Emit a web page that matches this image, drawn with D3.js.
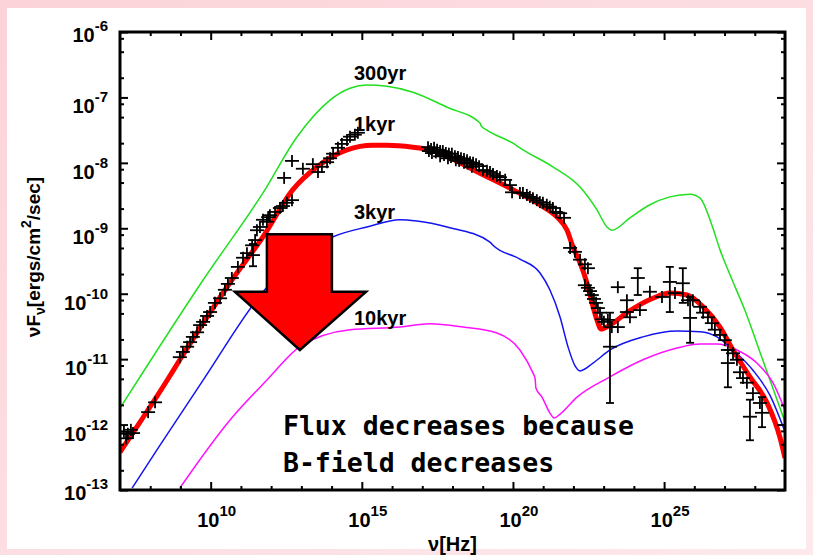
<!DOCTYPE html>
<html>
<head>
<meta charset="utf-8">
<script src="https://cdn.jsdelivr.net/npm/d3@7"></script>
<style>
html, body { margin: 0; padding: 0; background: #fff; }
svg { display: block; }
text { font-family: "Liberation Sans", Arial, sans-serif; font-weight: bold; fill: #000; }
.note { font-family: "DejaVu Sans Mono", monospace; font-weight: bold; }
</style>
</head>
<body>
<svg id="chart" width="813" height="555"></svg>
<script>
// all values are log10: [log10(nu/Hz), log10(nuFnu)]
const nuTickExp = [10, 15, 20, 25];
const fluxTickExp = [-6, -7, -8, -9, -10, -11, -12, -13];
const fluxMinor = [2, 5, 8];

const curve300yr = [[7.00,-11.75],[9.75,-9.79],[11.73,-8.46],[12.86,-7.60],[13.95,-7.04],[14.61,-6.86],
  [15.17,-6.81],[15.83,-6.83],[16.69,-6.92],[17.82,-7.15],[18.91,-7.39],[18.94,-7.43],[19.14,-7.50],
  [20.00,-7.70],[20.33,-7.80],[21.32,-8.06],[22.22,-8.37],[22.78,-8.72],[23.11,-8.98],[23.27,-9.03],
  [23.87,-8.84],[24.53,-8.64],[25.19,-8.52],[25.86,-8.48],[26.19,-8.54],[26.58,-8.95],[26.85,-9.33],
  [27.18,-9.71],[27.67,-10.25],[28.17,-10.89],[29.00,-11.96]];

const curve1kyr = [[7.00,-12.42],[8.55,-11.33],[8.98,-11.01],[10.70,-9.79],[11.73,-9.13],[12.72,-8.41],
  [13.52,-8.06],[14.51,-7.80],[15.37,-7.73],[15.83,-7.73],[16.69,-7.76],[17.25,-7.80],[18.91,-8.16],
  [20.00,-8.41],[20.89,-8.64],[21.46,-8.83],[21.79,-9.03],[21.99,-9.29],[22.22,-9.53],[22.45,-9.84],
  [22.65,-10.20],[22.78,-10.40],[22.91,-10.54],[23.21,-10.48],[23.77,-10.29],[24.63,-10.07],
  [25.19,-9.99],[25.76,-10.02],[26.29,-10.20],[26.85,-10.51],[27.28,-10.86],[27.84,-11.27],
  [28.41,-11.67],[28.83,-12.19],[29.00,-12.51]];

const curve3kyr = [[7.40,-12.97],[8.26,-12.36],[9.75,-11.32],[11.86,-9.90],[14.05,-9.13],[15.17,-8.98],
  [16.26,-8.87],[16.82,-8.89],[17.82,-8.98],[19.24,-9.21],[19.34,-9.26],[20.23,-9.47],[20.89,-9.68],
  [21.22,-9.94],[21.56,-10.36],[21.82,-10.81],[22.05,-11.10],[22.22,-11.18],[22.65,-11.06],
  [23.21,-10.86],[24.30,-10.66],[25.43,-10.57],[26.19,-10.58],[26.75,-10.66],[27.28,-10.86],
  [27.94,-11.17],[28.50,-11.55],[29.00,-12.11]];

const curve10kyr = [[8.98,-12.97],[10.64,-11.93],[11.86,-11.32],[12.95,-10.81],[14.61,-10.55],
  [16.26,-10.51],[17.25,-10.46],[18.35,-10.51],[19.47,-10.60],[20.23,-10.86],[20.66,-11.21],
  [20.73,-11.29],[20.76,-11.44],[20.96,-11.58],[21.22,-11.82],[21.36,-11.90],[21.56,-11.84],
  [22.12,-11.58],[23.21,-11.27],[24.30,-11.01],[25.43,-10.83],[26.19,-10.77],[26.75,-10.77],
  [27.41,-10.86],[28.07,-11.06],[28.60,-11.36],[29.00,-11.78]];

// observed points (small error bars)
const obsPoints = [[7.13,-12.11],[7.20,-12.21],[7.26,-12.14],[7.36,-12.08],[7.43,-12.13],[7.93,-11.81],
  [8.16,-11.66],[8.98,-10.97],[9.08,-10.89],[9.22,-10.81],[9.32,-10.74],[9.41,-10.66],[9.55,-10.59],
  [9.65,-10.48],[9.75,-10.43],[9.88,-10.34],[9.98,-10.28],[10.14,-10.14],[10.31,-10.07],[10.47,-9.94],
  [10.57,-9.85],[10.70,-9.76],[10.90,-9.59],[11.07,-9.45],[11.20,-9.38],[11.37,-9.26],[11.47,-9.18],
  [11.53,-9.03],[11.63,-8.98],[11.73,-8.87],[11.86,-8.90],[11.90,-8.83],[11.96,-8.80],[12.13,-8.75],
  [12.29,-8.69],[12.39,-8.66],[12.52,-8.61],[12.69,-8.57],
  [12.43,-8.23],[12.69,-7.97],[13.05,-8.09],[13.38,-8.02],[13.55,-8.14],[13.68,-8.06],[13.85,-7.99],
  [13.95,-7.93],[14.05,-7.86],[14.21,-7.77],[14.34,-7.71],[14.51,-7.65],[14.61,-7.60],[14.77,-7.57],
  [14.87,-7.54],
  [17.19,-7.76],[17.29,-7.79],[17.39,-7.77],[17.49,-7.80],[17.59,-7.82],[17.68,-7.82],[17.78,-7.85],
  [17.88,-7.86],[17.98,-7.86],[18.08,-7.90],[18.18,-7.91],[18.28,-7.93],[18.38,-7.94],[18.48,-7.96],
  [18.58,-7.99],[18.68,-8.00],[18.78,-8.02],[18.88,-8.05],[17.32,-7.85],[17.59,-7.90],[17.85,-7.93],
  [18.11,-7.96],[18.38,-8.00],[18.64,-8.06],[17.22,-7.82],[17.45,-7.84],[17.72,-7.88],[17.95,-7.91],
  [18.22,-7.97],[18.50,-8.01],
  [19.01,-8.11],[19.14,-8.12],[19.24,-8.14],[19.34,-8.17],[19.47,-8.20],[19.57,-8.22],[19.74,-8.26],
  [19.90,-8.34],[19.97,-8.45],[20.23,-8.46],[20.33,-8.46],[20.46,-8.49],[20.56,-8.52],[20.66,-8.54],
  [20.79,-8.57],[20.89,-8.60],[20.99,-8.61],[21.12,-8.64],[21.22,-8.67],[21.32,-8.69],[21.42,-8.75],
  [21.56,-8.77],[21.69,-8.84],
  [21.89,-9.30],[22.05,-9.36],[22.22,-9.48],[22.38,-9.55],[22.48,-9.61],[22.38,-9.87],[22.48,-9.91],
  [22.55,-9.96],[22.61,-10.02],[22.68,-10.08],[22.75,-10.14],[22.81,-10.22],[22.88,-10.29],
  [22.94,-10.39],[23.01,-10.43],[23.14,-10.40],[23.27,-10.51],[23.47,-10.51],[23.47,-9.90],
  [23.77,-10.10],[23.77,-10.28],[23.87,-10.36],[24.20,-10.25],[24.53,-9.97],[24.93,-10.05],
  [25.36,-9.99],[25.79,-10.10],[25.95,-10.10],[26.19,-10.20],[26.29,-10.29],[26.45,-10.36],
  [26.58,-10.45],[26.68,-10.55],[26.85,-10.63],[27.01,-10.71],[27.11,-10.86],[27.28,-10.91],
  [27.41,-11.01],[27.51,-11.20],[27.61,-11.29],[27.74,-11.36],[27.94,-11.52],[28.17,-11.67]];

// observed points with long error bars: [nu, flux, fluxLow, fluxHigh]
const obsWide = [[11.40,-9.41,-9.58,-9.24],[23.21,-10.81,-11.67,-10.29],[24.13,-9.76,-10.02,-9.61],
  [25.19,-9.82,-10.28,-9.59],[25.62,-9.84,-10.14,-9.61],[25.86,-10.37,-10.75,-10.05],
  [27.11,-11.06,-11.43,-10.86],[27.84,-11.88,-12.24,-11.62],[28.24,-11.82,-12.04,-11.58]];

const ageLabels = ['300yr', '1kyr', '3kyr', '10kyr'];
const ageLabelPos = [[14.74,-6.74],[14.74,-7.52],[14.74,-8.86],[14.74,-10.48]];

// big arrow outline
const arrowShape = [[11.86,-9.09],[14.01,-9.09],[14.01,-9.97],[15.14,-9.97],[12.95,-10.86],
  [10.80,-9.97],[11.86,-9.97]];

const noteLines = ['Flux decreases because', 'B-field decreases'];
const notePos = [[12.39,-12.16],[12.39,-12.72]];

const svg = d3.select('#chart');
const W = 813, H = 555;

const defs = svg.append('defs');
const grad = defs.append('linearGradient').attr('id', 'bg')
  .attr('x1', 0).attr('y1', 0).attr('x2', 1).attr('y2', 1);
grad.append('stop').attr('offset', 0).attr('stop-color', '#fbd3d8');
grad.append('stop').attr('offset', 1).attr('stop-color', '#fde9ec');

svg.append('rect').attr('width', W).attr('height', H).attr('fill', 'url(#bg)');
svg.append('rect').attr('x', 7).attr('y', 8).attr('width', 799).attr('height', 541).attr('fill', '#fff');

const pL = 120, pR = 785, pT = 32, pB = 490;

const x = d3.scaleLog().domain([1e7, 1e29]).range([pL, pR]);
const y = d3.scaleLog().domain([1e-13, 1e-6]).range([pB, pT]);
const px = p => x(Math.pow(10, p[0]));
const py = p => y(Math.pow(10, p[1]));

defs.append('clipPath').attr('id', 'plot')
  .append('rect').attr('x', pL).attr('y', pT).attr('width', pR - pL).attr('height', pB - pT);

const plot = svg.append('g').attr('clip-path', 'url(#plot)');
const line = d3.line().x(px).y(py).curve(d3.curveMonotoneX);

[[curve300yr, '#20e020', 1.5], [curve3kyr, '#1414f0', 1.5], [curve10kyr, '#ff10ff', 1.5],
 [curve1kyr, '#ff0000', 5]].forEach(([data, color, w]) => {
  plot.append('path').attr('d', line(data)).attr('fill', 'none')
    .attr('stroke', color).attr('stroke-width', w);
});

// crosses
const cross = plot.append('g').attr('stroke', '#000').attr('stroke-width', 1.8);
obsPoints.forEach(p => {
  cross.append('line').attr('x1', px(p) - 7).attr('x2', px(p) + 7).attr('y1', py(p)).attr('y2', py(p));
  cross.append('line').attr('x1', px(p)).attr('x2', px(p)).attr('y1', py(p) - 6).attr('y2', py(p) + 6);
});
obsWide.forEach(p => {
  cross.append('line').attr('x1', px(p) - 7).attr('x2', px(p) + 7).attr('y1', py(p)).attr('y2', py(p));
  cross.append('line').attr('x1', px(p)).attr('x2', px(p))
    .attr('y1', y(Math.pow(10, p[2]))).attr('y2', y(Math.pow(10, p[3])));
  cross.append('line').attr('x1', px(p) - 4).attr('x2', px(p) + 4)
    .attr('y1', y(Math.pow(10, p[2]))).attr('y2', y(Math.pow(10, p[2])));
  cross.append('line').attr('x1', px(p) - 4).attr('x2', px(p) + 4)
    .attr('y1', y(Math.pow(10, p[3]))).attr('y2', y(Math.pow(10, p[3])));
});

// ticks (inward, all four sides)
const nuMajor = nuTickExp.map(e => Math.pow(10, e));
const nuMinor = d3.range(8, 29).filter(e => e % 5 !== 0).map(e => Math.pow(10, e));
const fMajor = fluxTickExp.map(e => Math.pow(10, e));
const fMinor = [];
d3.range(-13, -6).forEach(e => fluxMinor.forEach(m => fMinor.push(m * Math.pow(10, e))));

function ticks(axisFn, scale, vals, size, tr) {
  const g = svg.append('g').attr('transform', tr)
    .call(axisFn(scale).tickValues(vals).tickSize(size).tickFormat(''));
  g.select('.domain').remove();
  g.selectAll('line').attr('stroke', '#000').attr('stroke-width', 2);
}
ticks(d3.axisBottom, x, nuMajor, -8, `translate(0,${pB})`);
ticks(d3.axisBottom, x, nuMinor, -4, `translate(0,${pB})`);
ticks(d3.axisTop, x, nuMajor, -8, `translate(0,${pT})`);
ticks(d3.axisTop, x, nuMinor, -4, `translate(0,${pT})`);
ticks(d3.axisLeft, y, fMajor, -8, `translate(${pL},0)`);
ticks(d3.axisLeft, y, fMinor, -4, `translate(${pL},0)`);
ticks(d3.axisRight, y, fMajor, -8, `translate(${pR},0)`);
ticks(d3.axisRight, y, fMinor, -4, `translate(${pR},0)`);

svg.append('rect').attr('x', pL).attr('y', pT).attr('width', pR - pL).attr('height', pB - pT)
  .attr('fill', 'none').attr('stroke', '#000').attr('stroke-width', 3);

// arrow
svg.append('path')
  .attr('d', 'M' + arrowShape.map(p => px(p) + ',' + py(p)).join('L') + 'Z')
  .attr('fill', '#ff0000').attr('stroke', '#000').attr('stroke-width', 2.5)
  .attr('stroke-linejoin', 'miter');

// tick labels
fluxTickExp.forEach((e, i) => {
  const ty = y(Math.pow(10, e));
  const off = (i === 0 || i === fluxTickExp.length - 1) ? 10 : 16;
  const t = svg.append('text').attr('x', 108).attr('y', ty + off)
    .attr('text-anchor', 'end').style('font-size', '20px');
  t.append('tspan').text('10');
  t.append('tspan').attr('dy', -11).style('font-size', '15px').text(e);
});
nuTickExp.forEach(e => {
  const t = svg.append('text').attr('x', x(Math.pow(10, e)) + 6).attr('y', 527)
    .attr('text-anchor', 'middle').style('font-size', '20px');
  t.append('tspan').text('10');
  t.append('tspan').attr('dy', -11).style('font-size', '15px').text(e);
});

svg.append('text').attr('x', (pL + pR) / 2).attr('y', 551).attr('text-anchor', 'middle')
  .style('font-size', '20px').text('ν[Hz]');

const yl = svg.append('text').attr('transform', 'translate(40,257) rotate(-90)')
  .attr('text-anchor', 'middle').style('font-size', '19px');
yl.append('tspan').text('νF');
yl.append('tspan').attr('dy', 5).style('font-size', '14px').text('ν');
yl.append('tspan').attr('dy', -5).text('[ergs/cm');
yl.append('tspan').attr('dy', -9).style('font-size', '14px').text('2');
yl.append('tspan').attr('dy', 9).text('/sec]');

ageLabels.forEach((s, i) => {
  svg.append('text').attr('x', px(ageLabelPos[i])).attr('y', py(ageLabelPos[i]))
    .style('font-size', '20px').text(s);
});

noteLines.forEach((s, i) => {
  svg.append('text').attr('class', 'note').attr('x', px(notePos[i])).attr('y', py(notePos[i]))
    .style('font-size', '26.5px').style('white-space', 'pre').text(s);
});
</script>
</body>
</html>
